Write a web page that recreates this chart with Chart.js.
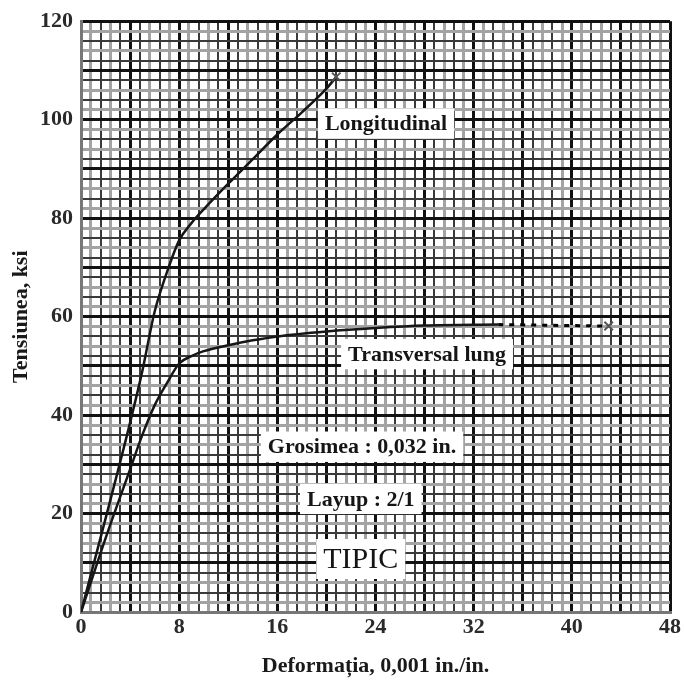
<!DOCTYPE html>
<html>
<head>
<meta charset="utf-8">
<script src="https://cdn.jsdelivr.net/npm/chart.js@4.4.0/dist/chart.umd.min.js"></script>
<style>
  html, body { margin: 0; padding: 0; background: #fff; }
  #wrap { width: 684px; height: 682px; }
</style>
</head>
<body>
<div id="wrap"><canvas id="chart" width="684" height="682"></canvas></div>
<script>
// --- DATE ---
const longX = [0, 2, 4, 5, 6, 7, 8, 9, 10, 12, 14, 16, 18, 20, 20.8];
const longY = [0, 19, 38.5, 49, 61, 69, 75.5, 79, 81.8, 87, 92, 97, 101.5, 106.3, 108.7];

const transX = [0, 2, 4, 5, 6, 7, 8, 9, 10, 12, 14, 16, 20, 24, 28, 34];
const transY = [0, 15, 29, 36, 42, 46.5, 50.5, 52, 53, 54.2, 55.2, 56, 57, 57.7, 58.2, 58.4];

const tailX = [34, 43];
const tailY = [58.4, 58.1];

const xLabels = [0, 8, 16, 24, 32, 40, 48];
const yLabels = [0, 20, 40, 60, 80, 100, 120];

const noteTexts = ['Longitudinal', 'Transversal lung', 'Grosimea : 0,032 in.', 'Layup : 2/1', 'TIPIC'];

const SERIF = '"Liberation Serif", "DejaVu Serif", serif';

function toPoints(xs, ys) {
    return xs.map((x, i) => ({ x: x, y: ys[i] }));
}

function endMarker(ctx) {
    return ctx.dataIndex === ctx.dataset.data.length - 1 ? 6 : 0;
}

// hartie milimetrica: linii groase, subtiri inchise, subtiri gri
function gridColor(ctx) {
    const i = ctx.index;
    if (i % 5 === 0) return '#111';
    return i % 2 === 1 ? '#a3a3a3' : '#3a3a3a';
}
function gridWidth(ctx) {
    const i = ctx.index;
    if (i % 5 === 0) return 3;
    return i % 2 === 1 ? 3 : 2;
}

// --- ETICHETE ---
const notesPlugin = {
    id: 'notes',
    afterDatasetsDraw(chart) {
        const { ctx, scales } = chart;
        const spots = [
            { x: 24.86, y: 99.2, size: 22, bold: true },
            { x: 28.2, y: 52.4, size: 22, bold: true },
            { x: 22.9, y: 33.6, size: 22, bold: true },
            { x: 22.8, y: 23.0, size: 22, bold: true },
            { x: 22.8, y: 10.8, size: 30, bold: false }
        ];
        ctx.save();
        noteTexts.forEach((txt, i) => {
            const s = spots[i];
            const px = scales.x.getPixelForValue(s.x);
            const py = scales.y.getPixelForValue(s.y);
            ctx.font = `${s.bold ? 'bold ' : ''}${s.size}px ${SERIF}`;
            const w = ctx.measureText(txt).width;
            const h = s.size * 1.2;
            ctx.fillStyle = '#fff';
            ctx.fillRect(px - w / 2 - 7, py - h / 2 - 2, w + 14, h + 4);
            ctx.fillStyle = '#151515';
            ctx.textAlign = 'center';
            ctx.textBaseline = 'middle';
            ctx.fillText(txt, px, py + 1);
        });
        ctx.restore();
    }
};

const chart = new Chart(document.getElementById('chart'), {
    type: 'scatter',
    data: {
        datasets: [
            {
                label: 'Longitudinal',
                data: toPoints(longX, longY),
                showLine: true,
                borderColor: '#161616',
                borderWidth: 2.5,
                cubicInterpolationMode: 'monotone',
                pointStyle: 'crossRot',
                pointRadius: endMarker,
                pointBorderColor: '#555',
                pointBorderWidth: 2
            },
            {
                label: 'Transversal lung',
                data: toPoints(transX, transY),
                showLine: true,
                borderColor: '#161616',
                borderWidth: 2.5,
                cubicInterpolationMode: 'monotone',
                pointRadius: 0
            },
            {
                label: 'Transversal lung (rupere)',
                data: toPoints(tailX, tailY),
                showLine: true,
                borderColor: '#000',
                borderWidth: 3,
                borderDash: [5, 6],
                pointStyle: 'crossRot',
                pointRadius: endMarker,
                pointBorderColor: '#555',
                pointBorderWidth: 2
            }
        ]
    },
    options: {
        responsive: false,
        animation: false,
        layout: { padding: { top: 20, right: 14, bottom: 0, left: 0 } },
        plugins: {
            legend: { display: false },
            tooltip: { enabled: false }
        },
        scales: {
            x: {
                type: 'linear',
                min: 0,
                max: 48,
                border: { display: true, color: '#777', width: 3 },
                grid: { color: gridColor, lineWidth: gridWidth, drawTicks: false },
                ticks: {
                    stepSize: 0.8,
                    autoSkip: false,
                    maxRotation: 0,
                    padding: 2,
                    color: '#2a2a2a',
                    font: { family: SERIF, size: 22, weight: 'bold' },
                    callback: (v) => {
                        const r = Math.round(v * 10) / 10;
                        return xLabels.includes(r) ? String(r) : '';
                    }
                },
                title: {
                    display: true,
                    text: 'Deformația, 0,001 in./in.',
                    color: '#1a1a1a',
                    font: { family: SERIF, size: 22, weight: 'bold' },
                    padding: { top: 11, bottom: 2 }
                }
            },
            y: {
                type: 'linear',
                min: 0,
                max: 120,
                border: { display: true, color: '#777', width: 3 },
                grid: { color: gridColor, lineWidth: gridWidth, drawTicks: false },
                ticks: {
                    stepSize: 2,
                    autoSkip: false,
                    padding: 8,
                    color: '#2a2a2a',
                    font: { family: SERIF, size: 22, weight: 'bold' },
                    callback: (v) => yLabels.includes(v) ? String(v) : ''
                },
                title: {
                    display: true,
                    text: 'Tensiunea, ksi',
                    color: '#1a1a1a',
                    font: { family: SERIF, size: 22, weight: 'bold', lineHeight: 1 },
                    padding: { top: 10, bottom: 0 }
                }
            }
        }
    },
    plugins: [notesPlugin]
});
</script>
</body>
</html>
